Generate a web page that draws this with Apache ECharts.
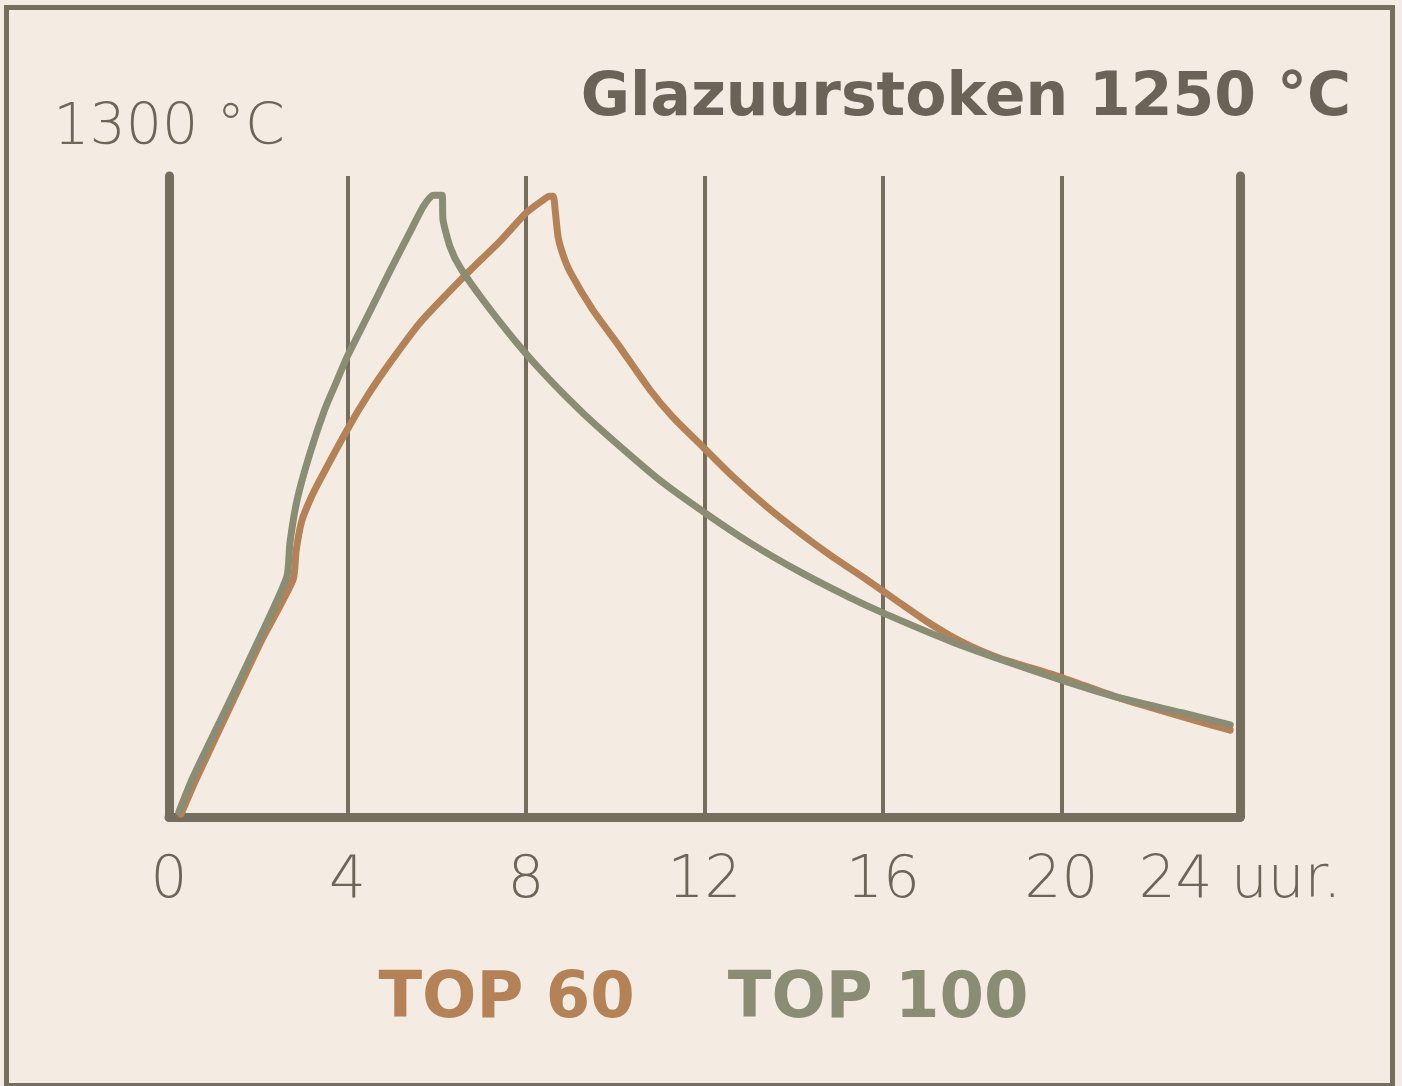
<!DOCTYPE html>
<html>
<head>
<meta charset="utf-8">
<script src="https://cdn.jsdelivr.net/npm/echarts@6/dist/echarts.min.js"></script>
<style>
html,body{margin:0;padding:0;background:#f4ece3;}
#chart{width:1402px;height:1086px;}
</style>
</head>
<body>
<div id="chart"></div>
<script>
// Tick labels of the hour axis
const hourTicks = [0, 4, 8, 12, 16, 20, 24];
const hourUnit = 'uur.';
const tempMaxLabel = '1300 °C';
const titleText = 'Glazuurstoken 1250 °C';

// TOP 60 (orange): hours and °C
const top60Name = 'TOP 60';
const top60Hours = [0.27,0.6,1.41,2.08,2.78,2.85,2.98,3.16,3.38,3.99,4.46,4.95,5.62,6.23,6.75,7.42,8.0,8.38,8.52,8.61,8.66,8.72,8.83,8.99,9.5,10.04,10.78,11.29,11.97,12.64,13.4,14.14,14.88,15.64,16.38,16.94,17.5,18.0,18.62,19.97,21.24,22.72,23.78];
const top60Temps = [6,75,231,359,481,541,602,643,683,785,856,921,1002,1061,1109,1168,1225,1251,1259,1259,1225,1176,1140,1105,1028,961,866,811,750,690,629,576,527,481,434,399,368,345,322,284,243,203,176];

// TOP 100 (green): hours and °C
const top100Name = 'TOP 100';
const top100Hours = [0.22,0.54,1.37,2.04,2.64,2.71,2.87,3.16,3.50,3.74,3.99,4.44,4.95,5.40,5.69,5.92,6.12,6.14,6.30,6.52,7.04,7.80,8.54,9.28,9.99,11.0,12.01,13.02,14.14,15.26,16.0,17.5,18.62,19.99,21.24,22.72,23.78];
const top100Temps = [10,81,237,365,487,556,643,738,829,880,933,1014,1107,1186,1237,1261,1261,1211,1156,1115,1048,961,886,819,761,683,617,556,497,445,414,357,320,278,243,211,187];

const axisColor = '#756d5d';
const textColor = '#6e6559';
const titleColor = '#6b6258';
const orange = '#b58157';
const green = '#8a8d73';
const lightFont = 'DejaVu Sans, Liberation Sans, sans-serif';
const boldFont = 'DejaVu Sans, Liberation Sans, sans-serif';

const pair = (xs, ys) => xs.map((x, i) => [x, ys[i]]);

const chart = echarts.init(document.getElementById('chart'), null, {renderer: 'canvas'});
chart.setOption({
  backgroundColor: '#f4ece3',
  animation: false,
  textStyle: {fontFamily: lightFont},
  title: {
    text: titleText,
    right: 46,
    top: 64,
    textStyle: {fontSize: 60, fontWeight: 'bold', color: titleColor, fontFamily: boldFont}
  },
  legend: {
    data: [
      {name: top60Name, textStyle: {color: orange}},
      {name: top100Name, textStyle: {color: green}}
    ],
    icon: 'none',
    itemWidth: 0,
    itemGap: 88,
    left: 'center',
    top: 963,
    selectedMode: false,
    textStyle: {fontSize: 64, fontWeight: 'bold', fontFamily: boldFont, padding: 0}
  },
  grid: {left: 169, right: 162, top: 176, bottom: 269, containLabel: false},
  xAxis: {
    type: 'value',
    min: hourTicks[0], max: hourTicks[hourTicks.length - 1], interval: hourTicks[1] - hourTicks[0],
    axisLine: {show: true, lineStyle: {color: axisColor, width: 9}},
    axisTick: {show: false},
    splitLine: {show: true, lineStyle: {color: axisColor, width: 4}},
    axisLabel: {
      margin: 36,
      fontSize: 58,
      fontWeight: 200,
      color: textColor,
      fontFamily: lightFont,
      formatter: v => (v === hourTicks[hourTicks.length - 1] ? v + ' ' + hourUnit : String(v)),
      showMaxLabel: true, showMinLabel: true
    }
  },
  yAxis: [
    {
      type: 'value', min: 0, max: 1300, position: 'left',
      axisLine: {show: true, lineStyle: {color: axisColor, width: 9}},
      axisTick: {show: false}, axisLabel: {show: false}, splitLine: {show: false},
      name: tempMaxLabel, nameLocation: 'end', nameGap: 18,
      nameTextStyle: {fontSize: 57, fontWeight: 200, color: textColor, align: 'center', fontFamily: lightFont}
    },
    {
      type: 'value', min: 0, max: 1300, position: 'right',
      axisLine: {show: true, onZero: false, lineStyle: {color: axisColor, width: 9}},
      axisTick: {show: false}, axisLabel: {show: false}, splitLine: {show: false}
    }
  ],
  series: [
    {
      name: top60Name, type: 'line', data: pair(top60Hours, top60Temps),
      showSymbol: false, symbol: 'none', smooth: 0.2, color: orange,
      lineStyle: {color: orange, width: 7, cap: 'round', join: 'round'}
    },
    {
      name: top100Name, type: 'line', data: pair(top100Hours, top100Temps),
      showSymbol: false, symbol: 'none', smooth: 0.2, color: green,
      lineStyle: {color: green, width: 7, cap: 'round', join: 'round'}
    }
  ],
  graphic: [
    {type: 'rect', shape: {x: 6.5, y: 7.5, width: 1386, height: 1078}, style: {fill: null, stroke: axisColor, lineWidth: 5}, silent: true, z: 100}
  ]
});
</script>
</body>
</html>
